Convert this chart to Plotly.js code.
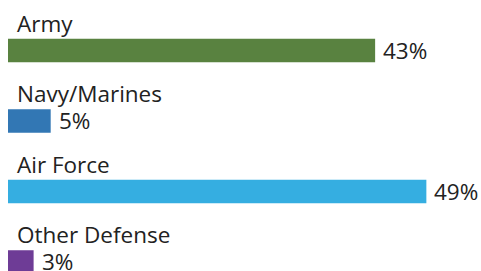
<!DOCTYPE html>
<html>
<head>
<meta charset="utf-8">
<script src="https://cdn.plot.ly/plotly-3.0.1.min.js"></script>
<style>
html,body{margin:0;padding:0;background:#fff;}
#chart{width:481px;height:271px;}
</style>
</head>
<body>
<div id="chart"></div>
<script>
const categories = ["Army", "Navy/Marines", "Air Force", "Other Defense"];
const values = [43, 5, 49, 3];
const colors = ["#598240", "#3277b4", "#35aee1", "#6e3c96"];
const valueLabels = values.map(v => v + "%");

const FONT = "Open Sans, Segoe UI, sans-serif";
const TXT = "#222222";

const trace = {
  type: "bar",
  orientation: "h",
  x: values,
  y: categories,
  marker: {color: colors},
  width: 0.333,
  hoverinfo: "none"
};

const annotations = [];
categories.forEach((c, i) => {
  annotations.push({
    x: 0, y: c, xref: "x", yref: "y",
    text: c, showarrow: false,
    xanchor: "left", yanchor: "middle",
    xshift: 7, yshift: 27,
    font: {family: FONT, size: 22.5, color: TXT}
  });
  annotations.push({
    x: values[i], y: c, xref: "x", yref: "y",
    text: valueLabels[i], showarrow: false,
    xanchor: "left", yanchor: "middle",
    xshift: 6, yshift: 0,
    font: {family: FONT, size: 22.5, color: TXT}
  });
});

const layout = {
  width: 481, height: 271,
  margin: {l: 8, r: 0, t: 0, b: 0, pad: 0},
  paper_bgcolor: "#ffffff",
  plot_bgcolor: "#ffffff",
  showlegend: false,
  xaxis: {range: [0, 55.4], visible: false, fixedrange: true},
  yaxis: {type: "category", range: [3.128, -0.716], visible: false, fixedrange: true},
  annotations: annotations
};

Plotly.newPlot("chart", [trace], layout, {staticPlot: true, displayModeBar: false});
</script>
</body>
</html>
